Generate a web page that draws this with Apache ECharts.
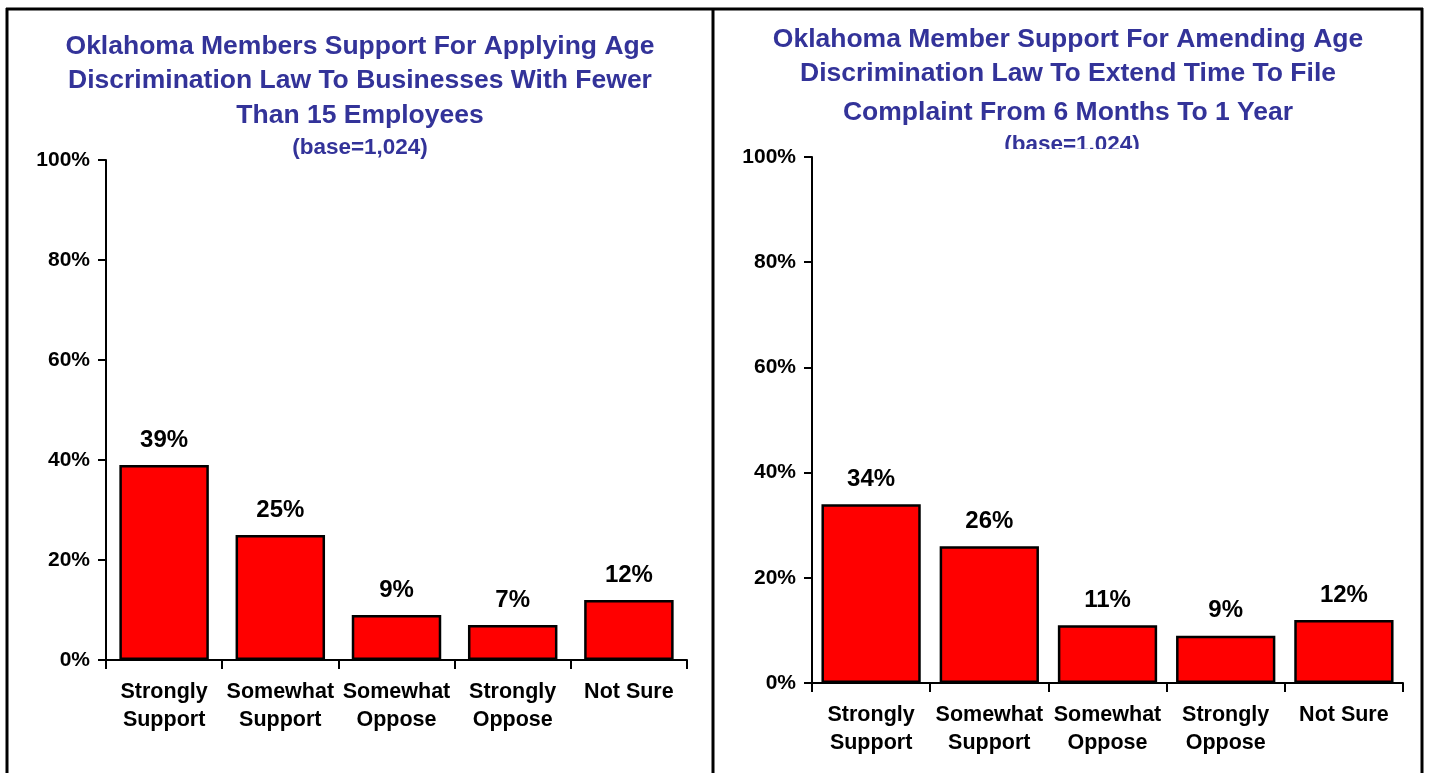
<!DOCTYPE html>
<html>
<head>
<meta charset="utf-8">
<script src="https://cdn.jsdelivr.net/npm/echarts@6/dist/echarts.min.js"></script>
<style>
  html, body { margin: 0; padding: 0; background: #fff; }
  #chart { width: 1429px; height: 773px; }
</style>
</head>
<body>
<div id="chart"></div>
<script>
// Survey answers shown on both panels
const categories = ['Strongly\nSupport', 'Somewhat\nSupport', 'Somewhat\nOppose', 'Strongly\nOppose', 'Not Sure'];
// Percent of members giving each answer
const smallBusinessValues = [39, 25, 9, 7, 12];
const filingTimeValues = [34, 26, 11, 9, 12];
// Panel headings
const smallBusinessTitle = [
  'Oklahoma Members Support For Applying Age',
  'Discrimination Law To Businesses With Fewer',
  'Than 15 Employees'
];
const filingTimeTitle = [
  'Oklahoma Member Support For Amending Age',
  'Discrimination Law To Extend Time To File',
  'Complaint From 6 Months To 1 Year'
];
const baseNote = '(base=1,024)';

const FONT = '"Liberation Sans", Arial, sans-serif';
const TITLE_COLOR = '#333399';

const chart = echarts.init(document.getElementById('chart'), null, { renderer: 'canvas' });

function headingText(text, x, y, size) {
  return {
    type: 'text', x: x, y: y, z: 10,
    style: {
      text: text, fill: TITLE_COLOR,
      font: 'bold ' + size + 'px ' + FONT,
      textAlign: 'center', textVerticalAlign: 'middle'
    }
  };
}

function borderLine(x1, y1, x2, y2) {
  return {
    type: 'line', z: 20,
    shape: { x1: x1, y1: y1, x2: x2, y2: y2 },
    style: { stroke: '#000', lineWidth: 3 }
  };
}

const graphics = [];
const leftY = [47, 81, 116];
const rightY = [40, 74, 113];
smallBusinessTitle.forEach((t, i) => graphics.push(headingText(t, 360, leftY[i], 26.5)));
filingTimeTitle.forEach((t, i) => graphics.push(headingText(t, 1068, rightY[i], 26.5)));
graphics.push(headingText(baseNote, 360, 148, 22.5));
graphics.push(headingText(baseNote, 1072, 145, 22.5));
// the right panel's plot area sits over the lower half of its base note
graphics.push({
  type: 'rect', z: 11,
  shape: { x: 980, y: 149, width: 190, height: 12 },
  style: { fill: '#fff' }
});
// panel frames
graphics.push(borderLine(6, 9, 1423, 9));
graphics.push(borderLine(7, 8, 7, 773));
graphics.push(borderLine(713, 8, 713, 773));
graphics.push(borderLine(1422, 8, 1422, 773));

function xAxisFor(gridIndex) {
  return {
    type: 'category', gridIndex: gridIndex, data: categories,
    axisLine: { lineStyle: { color: '#000', width: 2 } },
    axisTick: { show: true, length: 9, lineStyle: { color: '#000', width: 2 } },
    axisLabel: {
      color: '#000', fontFamily: FONT, fontWeight: 'bold', fontSize: 21.5,
      lineHeight: 28, margin: 18, interval: 0
    }
  };
}

function yAxisFor(gridIndex) {
  return {
    type: 'value', gridIndex: gridIndex, min: 0, max: 100, interval: 20,
    axisLine: { show: true, lineStyle: { color: '#000', width: 2 } },
    axisTick: { show: true, length: 8, lineStyle: { color: '#000', width: 2 } },
    splitLine: { show: false },
    axisLabel: {
      color: '#000', fontFamily: FONT, fontWeight: 'bold', fontSize: 21,
      margin: 16, formatter: '{value}%'
    }
  };
}

function barSeries(values, idx, gap) {
  return {
    type: 'bar', xAxisIndex: idx, yAxisIndex: idx, data: values,
    barCategoryGap: gap,
    itemStyle: { color: '#ff0000', borderColor: '#000', borderWidth: 2.5 },
    label: {
      show: true, position: 'top', distance: 13,
      color: '#000', fontFamily: FONT, fontWeight: 'bold', fontSize: 24,
      formatter: '{c}%'
    },
    animation: false
  };
}

chart.setOption({
  backgroundColor: '#fff',
  animation: false,
  grid: [
    { left: 106, top: 160, width: 581, height: 500 },
    { left: 812, top: 157, width: 591, height: 526 }
  ],
  xAxis: [xAxisFor(0), xAxisFor(1)],
  yAxis: [yAxisFor(0), yAxisFor(1)],
  series: [
    barSeries(smallBusinessValues, 0, '23%'),
    barSeries(filingTimeValues, 1, '16%')
  ],
  graphic: graphics
});
</script>
</body>
</html>
